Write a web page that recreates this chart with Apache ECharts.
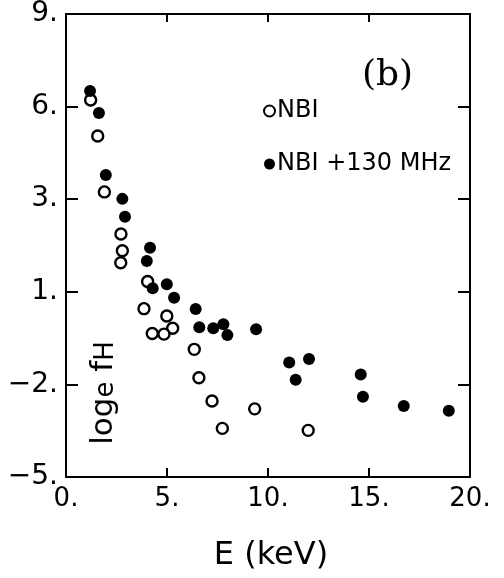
<!DOCTYPE html>
<html>
<head>
<meta charset="utf-8">
<script src="https://cdn.jsdelivr.net/npm/echarts@6/dist/echarts.min.js"></script>
<style>html,body{margin:0;padding:0;background:#fff;}#c{width:504px;height:578px;}</style>
</head>
<body>
<div id="c"></div>
<script>
// Data
var nbiE   = [1.22, 1.57, 1.90, 2.72, 2.79, 2.71, 4.04, 3.86, 4.99, 5.28, 4.85, 4.27, 6.35, 6.58, 7.23, 7.74, 9.34, 11.99];
var nbiF   = [6.40, 5.31, 3.62, 2.35, 1.84, 1.48, 0.91, 0.09, -0.13, -0.50, -0.68, -0.66, -1.14, -2.00, -2.70, -3.53, -2.94, -3.59];
var rfE    = [1.19, 1.63, 1.97, 2.79, 2.92, 4.16, 4.00, 4.29, 4.99, 5.35, 6.42, 6.60, 7.29, 7.79, 7.99, 9.41, 11.05, 12.03, 11.37, 14.59, 14.70, 16.72, 18.95];
var rfF    = [6.67, 6.01, 4.13, 3.41, 2.87, 1.93, 1.53, 0.71, 0.83, 0.42, 0.08, -0.47, -0.50, -0.38, -0.71, -0.53, -1.54, -1.43, -2.06, -1.90, -2.57, -2.85, -3.00];
var xTickLabels = ['0.', '5.', '10.', '15.', '20.'];
var yTickLabels = ['−5.', '−2.', '1.', '3.', '6.', '9.'];
var seriesNames = ['NBI', 'NBI +130 MHz'];

function pairs(a, b) { return a.map(function (v, i) { return [v, b[i]]; }); }

var FONT = 'DejaVu Sans';
var chart = echarts.init(document.getElementById('c'), null, { renderer: 'canvas' });
var axisLine = { show: true, onZero: false, lineStyle: { color: '#000', width: 2 } };
chart.setOption({
  animation: false,
  backgroundColor: '#fff',
  grid: { left: 66, right: 34, top: 14, bottom: 101 },
  legend: {
    orient: 'vertical', left: 258, top: 94,
    itemWidth: 11, itemHeight: 11, itemGap: 29,
    data: seriesNames,
    textStyle: { fontFamily: FONT, fontSize: 24, color: '#000', padding: [0, 0, 0, -3] }
  },
  xAxis: [
    {
      type: 'value', position: 'bottom', min: 0, max: 20, interval: 5,
      axisLine: axisLine, splitLine: { show: false },
      axisTick: { show: true, inside: true, length: 9, lineStyle: { color: '#000', width: 2 } },
      axisLabel: { margin: 9, fontFamily: FONT, fontSize: 26, color: '#000',
        formatter: function (v) { return xTickLabels[Math.round(v / 5)]; } },
      name: 'E (keV)', nameLocation: 'middle', nameGap: 63,
      nameTextStyle: { fontFamily: FONT, fontSize: 32, color: '#000', padding: [0, 0, 0, 6] }
    },
    {
      type: 'value', position: 'top', min: 0, max: 20, interval: 5,
      axisLine: axisLine, splitLine: { show: false },
      axisTick: { show: true, inside: true, length: 8, lineStyle: { color: '#000', width: 2 } },
      axisLabel: { show: false }
    }
  ],
  yAxis: [
    {
      type: 'value', position: 'left', min: -5, max: 9,
      axisLine: axisLine, splitLine: { show: false },
      axisTick: { show: false }, axisLabel: { show: false }
    },
    {
      type: 'value', position: 'left', min: 0, max: 5, interval: 1,
      axisLine: { show: false, onZero: false }, splitLine: { show: false },
      axisTick: { show: true, inside: true, length: 12, lineStyle: { color: '#000', width: 2 } },
      axisLabel: { margin: 8, fontFamily: FONT, fontSize: 28, color: '#000', padding: [4, 0, 0, 0],
        formatter: function (v) { return yTickLabels[Math.round(v)]; } }
    },
    {
      type: 'value', position: 'right', min: 0, max: 5, interval: 1,
      axisLine: axisLine, splitLine: { show: false },
      axisTick: { show: true, inside: true, length: 12, lineStyle: { color: '#000', width: 2 } },
      axisLabel: { show: false }
    }
  ],
  graphic: [
    {
      type: 'text', left: 362, top: 58,
      style: { text: '(b)', font: '36px "DejaVu Serif"', fill: '#000' }
    },
    {
      type: 'text', x: 104, y: 393, rotation: Math.PI / 2,
      style: {
        text: '{n|log}{s|e}{n| f}{s|H}',
        align: 'center', verticalAlign: 'middle',
        rich: {
          n: { fontFamily: FONT, fontSize: 31, fill: '#000', color: '#000' },
          s: { fontFamily: FONT, fontSize: 26, fill: '#000', color: '#000', verticalAlign: 'bottom' }
        }
      }
    }
  ],
  series: [
    {
      name: seriesNames[0], type: 'scatter', xAxisIndex: 0, yAxisIndex: 0,
      data: pairs(nbiE, nbiF), symbol: 'circle', symbolSize: 11,
      itemStyle: { color: '#fff', borderColor: '#000', borderWidth: 2.4, opacity: 1 }
    },
    {
      name: seriesNames[1], type: 'scatter', xAxisIndex: 0, yAxisIndex: 0,
      data: pairs(rfE, rfF), symbol: 'circle', symbolSize: 12,
      itemStyle: { color: '#000', opacity: 1 }
    }
  ]
});
</script>
</body>
</html>
